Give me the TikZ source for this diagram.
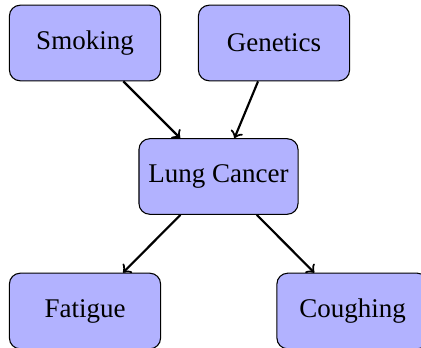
\documentclass[tikz,border=0pt]{standalone}
\usepackage{fontspec}
\setmainfont{Liberation Serif}
\usetikzlibrary{positioning,shapes,arrows}

\begin{document}
\begin{tikzpicture}[
  x=0.3704pt, y=-0.3704pt,
  var/.style={draw, rectangle, rounded corners=4pt, fill=blue!30,
    minimum width=56pt, minimum height=28pt, inner sep=3.5pt},
]
\useasboundingbox (0,0) rectangle (421,348);

\node[var] (smoking) at (85,43) {Smoking};
\node[var] (genetics) at (274,43) {Genetics};
\node[var] (cancer) at (218.5,176.5) {Lung Cancer};
\node[var] (fatigue) at (85,311) {Fatigue};
\node[var] (cough) at (352.5,311) {Coughing};

\path
% causes
(smoking) edge[->, thick] (cancer)
(genetics) edge[->, thick] (cancer)

% symptoms
(cancer) edge[->, thick] (fatigue)
(cancer) edge[->, thick] (cough)
;

\end{tikzpicture}
\end{document}
